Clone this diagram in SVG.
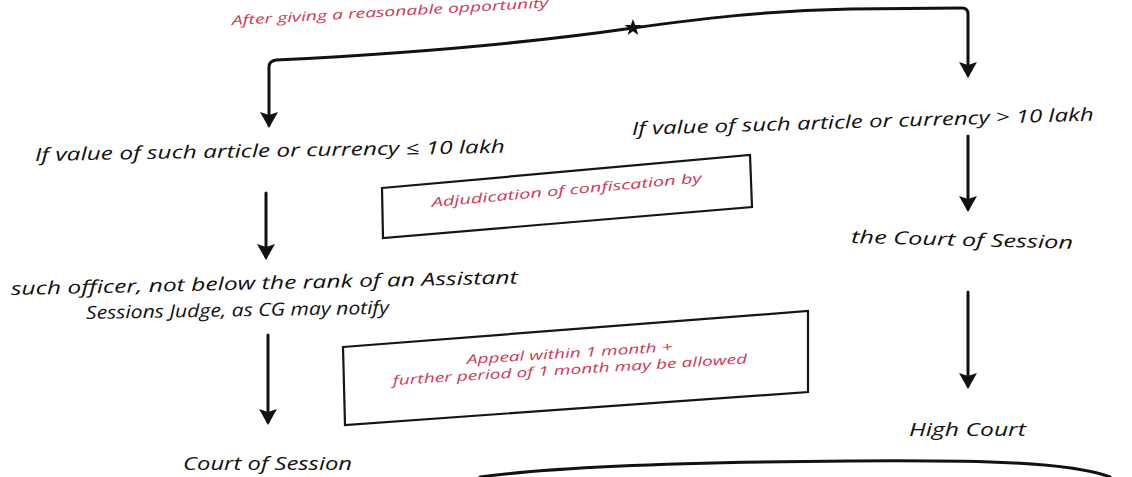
<svg xmlns="http://www.w3.org/2000/svg" width="1132" height="477" viewBox="0 0 1132 477">
  <defs>
    <style>
      .hand { font-family: "Open Sans", "DejaVu Sans", sans-serif; font-style: italic; font-weight: 400; fill: #111; font-size: 18px; }
      .note { font-family: "Open Sans", "DejaVu Sans", sans-serif; font-style: italic; font-weight: 400; fill: #cc3a57; font-size: 13px; }
      .wire { fill: none; stroke: #111; stroke-width: 3; stroke-linecap: round; stroke-linejoin: round; }
      .frame { fill: none; stroke: #151515; stroke-width: 2.2; }
    </style>
    <marker id="arrow" viewBox="0 0 16 18" refX="13" refY="9" markerWidth="16" markerHeight="18" orient="auto" markerUnits="userSpaceOnUse">
      <path d="M0,0 L16,9 L0,18 L3,9 z" fill="#111"/>
    </marker>
  </defs>

  <rect width="1132" height="477" fill="#ffffff"/>

  <!-- top remark -->
  <g id="note-top">
    <text class="note" x="232" y="25" font-size="14" textLength="317" lengthAdjust="spacingAndGlyphs" transform="rotate(-3.2 232 25)">After giving a reasonable opportunity</text>
  </g>

  <!-- connectors -->
  <g id="connectors">
    <path class="wire" d="M633,28 Q480,50 276,60 Q269,61 269,67 L269,125" marker-end="url(#arrow)"/>
    <path class="wire" d="M633,28 C700,19 760,11 850,9 L962,8 Q968,8 968,14 L968,75" marker-end="url(#arrow)"/>
    <polygon points="633,19 635.2,25 641.5,25 636.4,28.8 638.3,35 633,31.2 627.7,35 629.6,28.8 624.5,25 630.8,25" fill="#111"/>
    <path class="wire" d="M266,193 L266,257" marker-end="url(#arrow)"/>
    <path class="wire" d="M268,335 L268,422" marker-end="url(#arrow)"/>
    <path class="wire" d="M968,136 L968,209" marker-end="url(#arrow)"/>
    <path class="wire" d="M968,292 L968,386" marker-end="url(#arrow)"/>
  </g>

  <!-- value up to 10 lakh -->
  <g id="node-low">
    <text class="hand" x="35" y="161" textLength="470" lengthAdjust="spacingAndGlyphs" transform="rotate(-1 35 161)">If value of such article or currency ≤ 10 lakh</text>
  </g>

  <!-- value above 10 lakh -->
  <g id="node-high">
    <text class="hand" x="632" y="135" textLength="462" lengthAdjust="spacingAndGlyphs" transform="rotate(-1.8 632 135)">If value of such article or currency &gt; 10 lakh</text>
  </g>

  <!-- adjudication box -->
  <g id="node-adjudication">
    <polygon class="frame" points="382,188 750,155 752,207 383,238"/>
    <text class="note" x="432" y="207" textLength="271" lengthAdjust="spacingAndGlyphs" transform="rotate(-5.2 432 207)">Adjudication of confiscation by</text>
  </g>

  <!-- officer -->
  <g id="node-officer">
    <text class="hand" x="11" y="295" textLength="507" lengthAdjust="spacingAndGlyphs" transform="rotate(-1.3 11 295)">such officer, not below the rank of an Assistant</text>
    <text class="hand" x="86" y="319" textLength="303" lengthAdjust="spacingAndGlyphs" transform="rotate(-1 86 319)">Sessions Judge, as CG may notify</text>
  </g>

  <!-- court of session (right) -->
  <g id="node-court-session-right">
    <text class="hand" x="851" y="243" font-size="19" textLength="222" lengthAdjust="spacingAndGlyphs" transform="rotate(1.5 851 243)">the Court of Session</text>
  </g>

  <!-- appeal box -->
  <g id="node-appeal">
    <polygon class="frame" points="343,347 808,311 808,392 345,425"/>
    <text class="note" x="467" y="364" textLength="206" lengthAdjust="spacingAndGlyphs" transform="rotate(-3.5 467 364)">Appeal within 1 month +</text>
    <text class="note" x="393" y="385" textLength="355" lengthAdjust="spacingAndGlyphs" transform="rotate(-3.5 393 385)">further period of 1 month may be allowed</text>
  </g>

  <!-- court of session (left) -->
  <g id="node-court-session-left">
    <text class="hand" x="183" y="470" textLength="169" lengthAdjust="spacingAndGlyphs">Court of Session</text>
  </g>

  <!-- high court -->
  <g id="node-high-court">
    <text class="hand" x="909" y="436" textLength="117" lengthAdjust="spacingAndGlyphs">High Court</text>
  </g>

  <!-- closing rule along the bottom -->
  <path class="wire" d="M480,477 C560,466 700,462 850,461 C980,460 1070,462 1110,477" stroke-width="2.5"/>
</svg>
